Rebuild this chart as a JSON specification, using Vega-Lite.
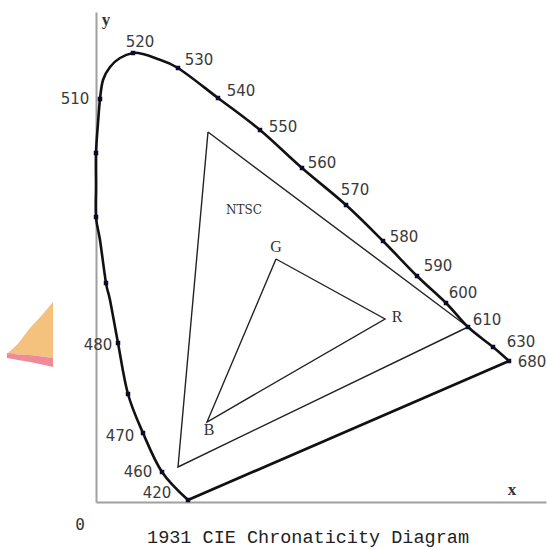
{
  "$schema": "https://vega.github.io/schema/vega-lite/v6.json",
  "width": 450,
  "height": 490,
  "autosize": {"type": "none"},
  "padding": {"left": 96, "top": 12, "right": 1, "bottom": 48},
  "background": "white",
  "config": {"view": {"stroke": null}},
  "datasets": {
    "wedge": [
      {"x": -0.178, "top": 0.296, "bot": 0.296},
      {"x": -0.156, "top": 0.3164, "bot": 0.295},
      {"x": -0.132, "top": 0.348, "bot": 0.294},
      {"x": -0.108, "top": 0.374, "bot": 0.291},
      {"x": -0.086, "top": 0.400, "bot": 0.288}
    ],
    "band": [
      {"x": -0.178, "top": 0.298, "bot": 0.288},
      {"x": -0.156, "top": 0.295, "bot": 0.284},
      {"x": -0.132, "top": 0.294, "bot": 0.280},
      {"x": -0.108, "top": 0.291, "bot": 0.275},
      {"x": -0.086, "top": 0.288, "bot": 0.270}
    ],
    "locus": [
      {"o": 1, "x": 0.184, "y": 0.004},
      {"o": 2, "x": 0.132, "y": 0.060},
      {"o": 3, "x": 0.094, "y": 0.138},
      {"o": 4, "x": 0.064, "y": 0.216},
      {"o": 5, "x": 0.044, "y": 0.318},
      {"o": 6, "x": 0.028, "y": 0.404},
      {"o": 7, "x": 0.020, "y": 0.438},
      {"o": 8, "x": 0.008, "y": 0.524},
      {"o": 9, "x": 0.000, "y": 0.570},
      {"o": 10, "x": 0.000, "y": 0.634},
      {"o": 11, "x": 0.000, "y": 0.698},
      {"o": 12, "x": 0.004, "y": 0.758},
      {"o": 13, "x": 0.008, "y": 0.806},
      {"o": 14, "x": 0.014, "y": 0.844},
      {"o": 15, "x": 0.028, "y": 0.870},
      {"o": 16, "x": 0.048, "y": 0.888},
      {"o": 17, "x": 0.074, "y": 0.898},
      {"o": 18, "x": 0.094, "y": 0.896},
      {"o": 19, "x": 0.118, "y": 0.888},
      {"o": 20, "x": 0.164, "y": 0.868},
      {"o": 21, "x": 0.244, "y": 0.808},
      {"o": 22, "x": 0.328, "y": 0.744},
      {"o": 23, "x": 0.412, "y": 0.668},
      {"o": 24, "x": 0.500, "y": 0.594},
      {"o": 25, "x": 0.574, "y": 0.522},
      {"o": 26, "x": 0.642, "y": 0.452},
      {"o": 27, "x": 0.700, "y": 0.398},
      {"o": 28, "x": 0.744, "y": 0.350},
      {"o": 29, "x": 0.794, "y": 0.310},
      {"o": 30, "x": 0.826, "y": 0.282}
    ],
    "purple": [
      {"o": 1, "x": 0.826, "y": 0.282},
      {"o": 2, "x": 0.184, "y": 0.004}
    ],
    "marks": [
      {"x": 0.184, "y": 0.004},
      {"x": 0.132, "y": 0.060},
      {"x": 0.094, "y": 0.138},
      {"x": 0.064, "y": 0.216},
      {"x": 0.044, "y": 0.318},
      {"x": 0.020, "y": 0.438},
      {"x": 0.000, "y": 0.570},
      {"x": 0.000, "y": 0.698},
      {"x": 0.008, "y": 0.806},
      {"x": 0.074, "y": 0.898},
      {"x": 0.164, "y": 0.868},
      {"x": 0.244, "y": 0.808},
      {"x": 0.328, "y": 0.744},
      {"x": 0.412, "y": 0.668},
      {"x": 0.500, "y": 0.594},
      {"x": 0.574, "y": 0.522},
      {"x": 0.642, "y": 0.452},
      {"x": 0.700, "y": 0.398},
      {"x": 0.744, "y": 0.350},
      {"x": 0.794, "y": 0.310},
      {"x": 0.826, "y": 0.282}
    ],
    "ntsc": [
      {"o": 1, "x": 0.224, "y": 0.740},
      {"o": 2, "x": 0.744, "y": 0.350},
      {"o": 3, "x": 0.164, "y": 0.070},
      {"o": 4, "x": 0.224, "y": 0.740}
    ],
    "rgb": [
      {"o": 1, "x": 0.360, "y": 0.486},
      {"o": 2, "x": 0.578, "y": 0.366},
      {"o": 3, "x": 0.222, "y": 0.160},
      {"o": 4, "x": 0.360, "y": 0.486}
    ],
    "wl": [
      {"x": 0.122, "y": 0.018, "t": "420"},
      {"x": 0.084, "y": 0.060, "t": "460"},
      {"x": 0.048, "y": 0.132, "t": "470"},
      {"x": 0.004, "y": 0.314, "t": "480"},
      {"x": -0.042, "y": 0.806, "t": "510"},
      {"x": 0.088, "y": 0.920, "t": "520"},
      {"x": 0.206, "y": 0.884, "t": "530"},
      {"x": 0.290, "y": 0.822, "t": "540"},
      {"x": 0.374, "y": 0.750, "t": "550"},
      {"x": 0.452, "y": 0.678, "t": "560"},
      {"x": 0.518, "y": 0.624, "t": "570"},
      {"x": 0.616, "y": 0.530, "t": "580"},
      {"x": 0.684, "y": 0.472, "t": "590"},
      {"x": 0.734, "y": 0.418, "t": "600"},
      {"x": 0.782, "y": 0.364, "t": "610"},
      {"x": 0.850, "y": 0.320, "t": "630"},
      {"x": 0.872, "y": 0.280, "t": "680"}
    ],
    "vert": [
      {"x": 0.360, "y": 0.510, "t": "G"},
      {"x": 0.602, "y": 0.370, "t": "R"},
      {"x": 0.226, "y": 0.144, "t": "B"}
    ],
    "axname": [
      {"x": 0.020, "y": 0.964, "t": "y"},
      {"x": 0.832, "y": 0.024, "t": "x"}
    ],
    "ntsclab": [{"x": 0.296, "y": 0.584, "t": "NTSC"}],
    "zero": [{"x": -0.032, "y": -0.046, "t": "0"}],
    "title": [{"x": 0.424, "y": -0.070, "t": "1931 CIE Chronaticity Diagram"}]
  },
  "encoding": {
    "x": {"field": "x", "type": "quantitative", "scale": {"domain": [0, 0.9], "nice": false, "zero": false},
          "axis": {"domainColor": "#a0a0a0", "domainWidth": 2, "ticks": false, "labels": false, "grid": false, "title": null}},
    "y": {"field": "y", "type": "quantitative", "scale": {"domain": [0, 0.98], "nice": false, "zero": false},
          "axis": {"domainColor": "#a0a0a0", "domainWidth": 2, "ticks": false, "labels": false, "grid": false, "title": null}}
  },
  "layer": [
    {"data": {"name": "wedge"}, "mark": {"type": "area", "color": "#f4c27c", "opacity": 1},
     "encoding": {"y": {"field": "top", "type": "quantitative"}, "y2": {"field": "bot"}}},
    {"data": {"name": "band"}, "mark": {"type": "area", "color": "#ef8a98", "opacity": 1},
     "encoding": {"y": {"field": "top", "type": "quantitative"}, "y2": {"field": "bot"}}},
    {"data": {"name": "ntsc"}, "mark": {"type": "line", "color": "#222", "strokeWidth": 1.4},
     "encoding": {"order": {"field": "o", "type": "quantitative"}}},
    {"data": {"name": "rgb"}, "mark": {"type": "line", "color": "#222", "strokeWidth": 1.4},
     "encoding": {"order": {"field": "o", "type": "quantitative"}}},
    {"data": {"name": "locus"}, "mark": {"type": "line", "color": "#111", "strokeWidth": 2.6, "interpolate": "cardinal"},
     "encoding": {"order": {"field": "o", "type": "quantitative"}}},
    {"data": {"name": "purple"}, "mark": {"type": "line", "color": "#111", "strokeWidth": 2.8},
     "encoding": {"order": {"field": "o", "type": "quantitative"}}},
    {"data": {"name": "marks"}, "mark": {"type": "square", "color": "#0a0a30", "opacity": 1, "size": 20}},
    {"data": {"name": "wl"}, "mark": {"type": "text", "font": "DejaVu Sans", "fontSize": 15, "color": "#3a3a3a", "align": "center", "baseline": "middle"},
     "encoding": {"text": {"field": "t"}}},
    {"data": {"name": "vert"}, "mark": {"type": "text", "font": "Liberation Serif", "fontSize": 16, "color": "#333", "align": "center", "baseline": "middle"},
     "encoding": {"text": {"field": "t"}}},
    {"data": {"name": "axname"}, "mark": {"type": "text", "font": "Liberation Serif", "fontSize": 17, "fontWeight": "bold", "color": "#333", "align": "center", "baseline": "middle"},
     "encoding": {"text": {"field": "t"}}},
    {"data": {"name": "ntsclab"}, "mark": {"type": "text", "font": "DejaVu Serif", "fontSize": 12, "color": "#333", "align": "center", "baseline": "middle"},
     "encoding": {"text": {"field": "t"}}},
    {"data": {"name": "zero"}, "mark": {"type": "text", "font": "DejaVu Sans Mono", "fontSize": 16, "color": "#333", "align": "center", "baseline": "middle"},
     "encoding": {"text": {"field": "t"}}},
    {"data": {"name": "title"}, "mark": {"type": "text", "font": "Liberation Mono", "fontSize": 18.5, "color": "#222", "align": "center", "baseline": "middle"},
     "encoding": {"text": {"field": "t"}}}
  ]
}
